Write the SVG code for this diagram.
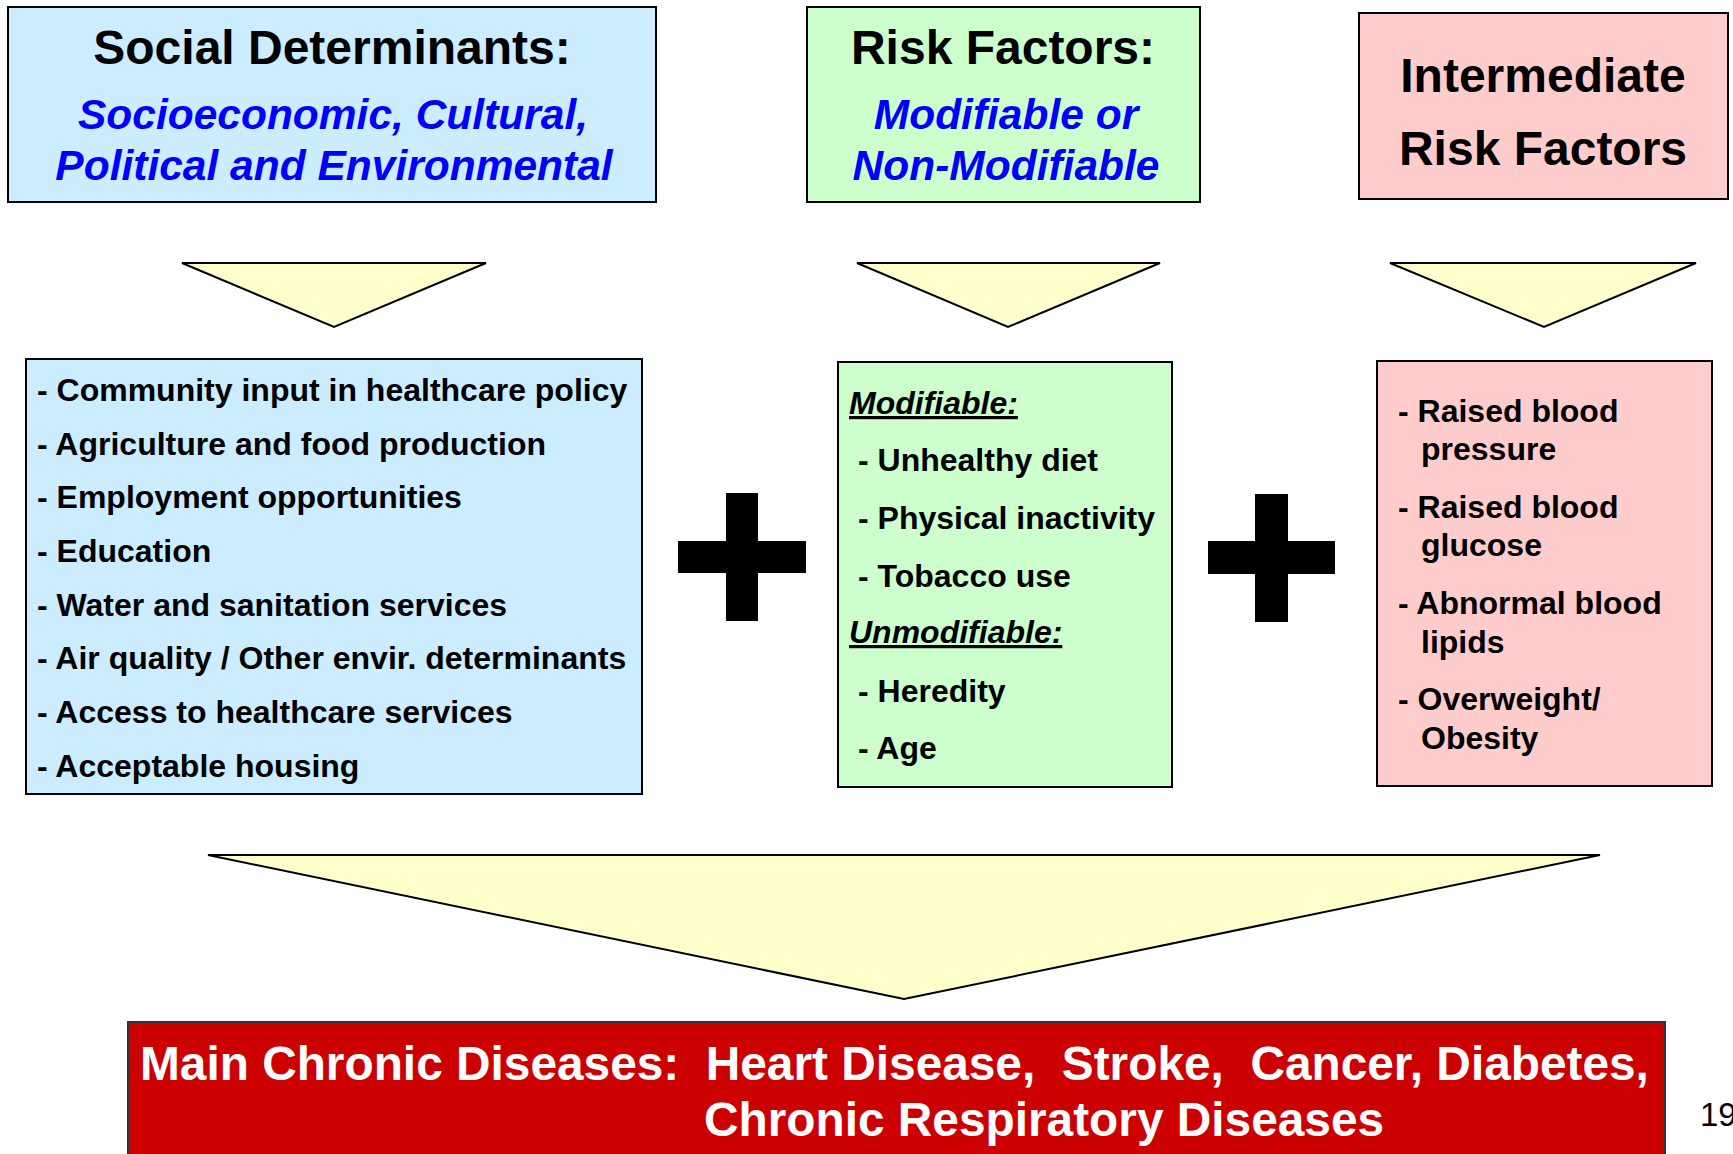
<svg xmlns="http://www.w3.org/2000/svg" width="1733" height="1154" viewBox="0 0 1733 1154">
<style>
  .box { stroke: #000; stroke-width: 2; }
  .blue { fill: #CCECFF; }
  .green { fill: #CCFFCC; }
  .pink { fill: #FFCCCC; }
  .red { fill: #CC0000; stroke: #333; stroke-width: 2; }
  .tri { fill: #FFFFCC; stroke: #000; stroke-width: 2; stroke-linejoin: miter; }
  .title { font-family: "Liberation Sans", Arial, sans-serif; font-weight: bold; font-size: 48px; fill: #000; text-anchor: middle; }
  .sub { font-family: "Liberation Sans", Arial, sans-serif; font-weight: bold; font-style: italic; font-size: 42.5px; fill: #0000FF; text-anchor: middle; }
  .item { font-family: "Liberation Sans", Arial, sans-serif; font-weight: bold; font-size: 32px; fill: #000; white-space: pre; }
  .head { font-family: "Liberation Sans", Arial, sans-serif; font-weight: bold; font-style: italic; font-size: 32px; fill: #000; text-decoration: underline; }
  .main { font-family: "Liberation Sans", Arial, sans-serif; font-weight: bold; font-size: 47.8px; fill: #FFFFFF; white-space: pre; }
  .page { font-family: "Liberation Sans", Arial, sans-serif; font-size: 33px; fill: #000; }
</style>

<g id="social-determinants">
  <rect class="box blue" x="8" y="7" width="648" height="195"/>
  <text class="title" x="332" y="64">Social Determinants:</text>
  <text class="sub" x="333" y="129">Socioeconomic, Cultural,</text>
  <text class="sub" x="334" y="180">Political and Environmental</text>
</g>

<g id="risk-factors">
  <rect class="box green" x="807" y="7" width="393" height="195"/>
  <text class="title" x="1003" y="64">Risk Factors:</text>
  <text class="sub" x="1006" y="129">Modifiable or</text>
  <text class="sub" x="1006" y="180">Non-Modifiable</text>
</g>

<g id="intermediate-risk-factors">
  <rect class="box pink" x="1359" y="13" width="369" height="186"/>
  <text class="title" x="1543" y="92">Intermediate</text>
  <text class="title" x="1543" y="165">Risk Factors</text>
</g>

<g id="social-list">
  <rect class="box blue" x="26" y="359" width="616" height="435"/>
  <text class="item" x="37" y="401">- Community input in healthcare policy</text>
  <text class="item" x="37" y="455">- Agriculture and food production</text>
  <text class="item" x="37" y="508">- Employment opportunities</text>
  <text class="item" x="37" y="562">- Education</text>
  <text class="item" x="37" y="616">- Water and sanitation services</text>
  <text class="item" x="37" y="669">- Air quality / Other envir. determinants</text>
  <text class="item" x="37" y="723">- Access to healthcare services</text>
  <text class="item" x="37" y="777">- Acceptable housing</text>
</g>

<g id="risk-list">
  <rect class="box green" x="838" y="362" width="334" height="425"/>
  <text class="head" x="849" y="414">Modifiable:</text>
  <text class="item" x="858" y="471">- Unhealthy diet</text>
  <text class="item" x="858" y="529">- Physical inactivity</text>
  <text class="item" x="858" y="587">- Tobacco use</text>
  <text class="head" x="849" y="643">Unmodifiable:</text>
  <text class="item" x="858" y="702">- Heredity</text>
  <text class="item" x="858" y="759">- Age</text>
</g>

<g id="intermediate-list">
  <rect class="box pink" x="1377" y="361" width="335" height="425"/>
  <text class="item" x="1398" y="422">- Raised blood</text>
  <text class="item" x="1421" y="460">pressure</text>
  <text class="item" x="1398" y="518">- Raised blood</text>
  <text class="item" x="1421" y="556">glucose</text>
  <text class="item" x="1398" y="614">- Abnormal blood</text>
  <text class="item" x="1421" y="653">lipids</text>
  <text class="item" x="1398" y="710">- Overweight/</text>
  <text class="item" x="1421" y="749">Obesity</text>
</g>

<g id="plus-1">
  <rect x="678" y="541" width="128" height="32" fill="#000"/>
  <rect x="726" y="493" width="32" height="128" fill="#000"/>
</g>

<g id="plus-2">
  <rect x="1208" y="541" width="127" height="33" fill="#000"/>
  <rect x="1255" y="494" width="33" height="128" fill="#000"/>
</g>

<g id="connectors">
  <polygon class="tri" points="182,263 486,263 334,327"/>
  <polygon class="tri" points="857,263 1160,263 1008,327"/>
  <polygon class="tri" points="1390,263 1696,263 1544,327"/>
  <polygon class="tri" points="208,855 1600,855 904,999"/>
</g>

<g id="main-chronic-diseases">
  <rect class="red" x="128" y="1022" width="1537" height="140"/>
  <text class="main" x="140" y="1080">Main Chronic Diseases:  Heart Disease,  Stroke,  Cancer, Diabetes,</text>
  <text class="main" x="704" y="1136">Chronic Respiratory Diseases</text>
</g>

<text class="page" x="1700" y="1126">19</text>
</svg>
